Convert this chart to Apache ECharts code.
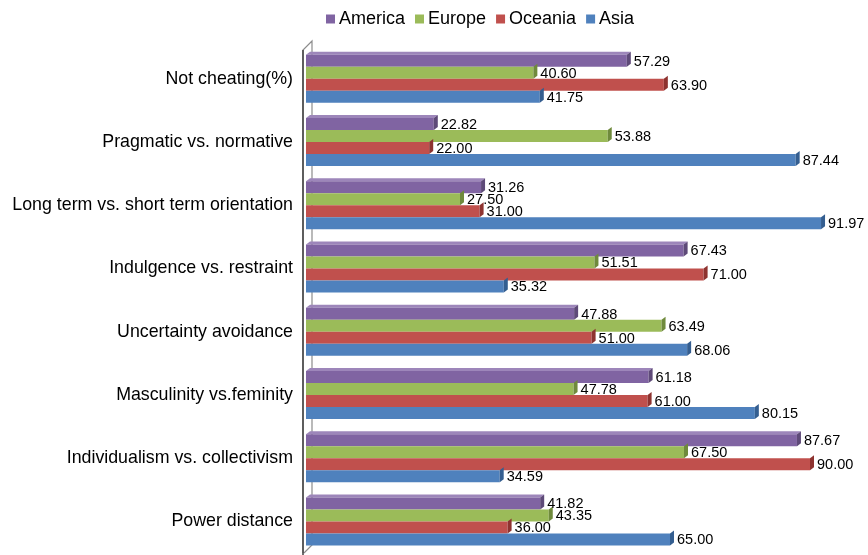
<!DOCTYPE html>
<html>
<head>
<meta charset="utf-8">
<script src="https://cdn.jsdelivr.net/npm/echarts@6/dist/echarts.min.js"></script>
<style>
  html, body { margin: 0; padding: 0; background: #ffffff; }
  #chart { width: 868px; height: 555px; }
</style>
</head>
<body>
<div id="chart"></div>
<script>
// Dimension names, listed top to bottom
const categories = [
  'Not cheating(%)',
  'Pragmatic vs. normative',
  'Long term vs. short term orientation',
  'Indulgence vs. restraint',
  'Uncertainty avoidance',
  'Masculinity vs.feminity',
  'Individualism vs. collectivism',
  'Power distance'
];

const regions = ['America', 'Europe', 'Oceania', 'Asia'];

// Scores per region, same order as categories
const america = [57.29, 22.82, 31.26, 67.43, 47.88, 61.18, 87.67, 41.82];
const europe  = [40.60, 53.88, 27.50, 51.51, 63.49, 47.78, 67.50, 43.35];
const oceania = [63.90, 22.00, 31.00, 71.00, 51.00, 61.00, 90.00, 36.00];
const asia    = [41.75, 87.44, 91.97, 35.32, 68.06, 80.15, 34.59, 65.00];

const seriesValues = [america, europe, oceania, asia];

const palette = [
  { face: '#8064A2', side: '#5E4A78', top: '#9D86BA' },
  { face: '#9BBB59', side: '#6F8A3C', top: '#B5CF82' },
  { face: '#C0504D', side: '#8E3330', top: '#D27C79' },
  { face: '#4F81BD', side: '#345E90', top: '#7EA2D0' }
];

const BAR_H = 12;   // thickness of one bar
const DX = 4;       // 3D depth, horizontal
const DY = 3;       // 3D depth, vertical

function makeRender(k) {
  const c = palette[k];
  return function (params, api) {
    const val = api.value(0);
    const cat = api.value(1);
    const start = api.coord([0, cat]);
    const end = api.coord([val, cat]);
    const x0 = start[0];
    const x1 = end[0];
    const y = start[1] - 2 * BAR_H + k * BAR_H;
    const children = [];
    if (k === 0) {
      // top face of the uppermost bar in the group
      children.push({
        type: 'polygon',
        shape: { points: [[x0, y], [x0 + DX, y - DY], [x1 + DX, y - DY], [x1, y]] },
        style: { fill: c.top }
      });
    }
    children.push({
      type: 'rect',
      shape: { x: x0, y: y, width: x1 - x0, height: BAR_H },
      style: { fill: c.face }
    });
    // end face
    children.push({
      type: 'polygon',
      shape: { points: [[x1, y], [x1 + DX, y - DY], [x1 + DX, y + BAR_H - DY], [x1, y + BAR_H]] },
      style: { fill: c.side }
    });
    children.push({
      type: 'text',
      z2: 10,
      style: {
        text: val.toFixed(2),
        x: x1 + DX + 3,
        y: y + BAR_H / 2 + 1,
        verticalAlign: 'middle',
        fill: '#000000',
        font: '14.5px "Liberation Sans", Arial, sans-serif'
      }
    });
    return { type: 'group', children: children };
  };
}

// Series order follows the region order so the legend reads America → Asia
const series = regions.map(function (name, k) {
  return {
    name: name,
    type: 'custom',
    renderItem: makeRender(k),
    encode: { x: 0, y: 1 },
    itemStyle: { color: palette[k].face },
    data: seriesValues[k].map(function (v, i) { return [v, i]; }),
    z: 2
  };
});

const chart = echarts.init(document.getElementById('chart'), null, { renderer: 'canvas' });

chart.setOption({
  backgroundColor: '#ffffff',
  animation: false,
  legend: {
    top: 5,
    left: 321,
    itemWidth: 9,
    itemHeight: 9,
    itemGap: 10,
    icon: 'rect',
    data: regions,
    textStyle: { fontFamily: '"Liberation Sans", Arial, sans-serif', fontSize: 18, color: '#000000', padding: [0, 0, 0, -1] }
  },
  grid: { left: 306, right: 2, top: 47, bottom: 2, containLabel: false },
  xAxis: {
    type: 'value',
    min: 0,
    max: 100,
    show: false
  },
  yAxis: {
    type: 'category',
    data: categories,
    inverse: true,
    axisLine: { show: false },
    axisTick: { show: false },
    splitLine: { show: false },
    axisLabel: {
      margin: 13,
      padding: [6, 0, 0, 0],
      fontFamily: '"Liberation Sans", Arial, sans-serif',
      fontSize: 17.8,
      color: '#000000'
    }
  },
  graphic: [
    {
      // side wall behind the category axis
      type: 'polyline',
      z: 0,
      shape: { points: [[303, 553], [303, 50], [312, 41], [312, 545], [304, 553]] },
      style: { stroke: '#8c8c8c', lineWidth: 1.2, fill: null }
    },
    {
      type: 'line',
      z: 5,
      shape: { x1: 303, y1: 50, x2: 303, y2: 555 },
      style: { stroke: '#3f3f3f', lineWidth: 1.5 }
    }
  ],
  series: series
});
</script>
</body>
</html>
